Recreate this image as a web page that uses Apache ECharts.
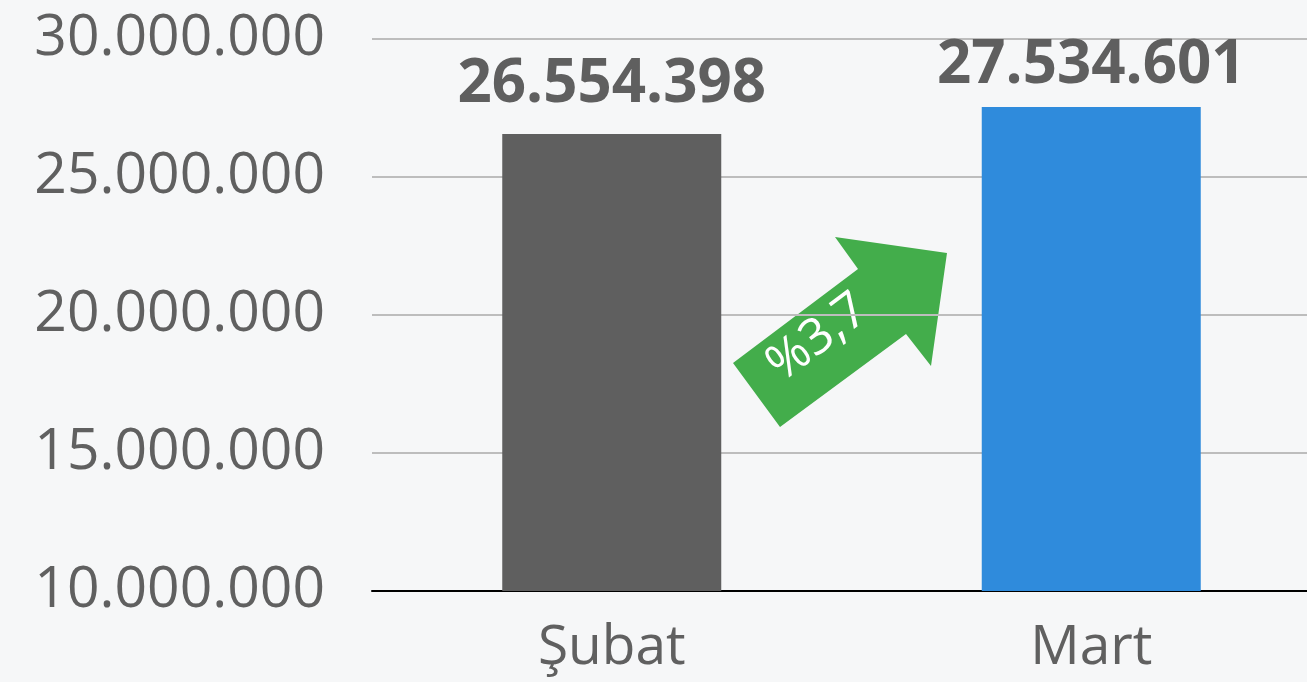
<!DOCTYPE html>
<html>
<head>
<meta charset="utf-8">
<title>Şubat - Mart</title>
<script src="https://cdn.jsdelivr.net/npm/echarts@6/dist/echarts.min.js"></script>
<style>
  html, body { margin: 0; padding: 0; overflow: hidden; background: #f6f7f8; }
  #chart { width: 1331px; height: 682px; }
</style>
</head>
<body>
<div id="chart"></div>
<script>
// data
const months = ["Şubat", "Mart"];
const totals = [26554398, 27534601];
const barColors = ["#5f5f5f", "#2f8bdc"];
const changeText = "%3,7";

const yMin = 10000000, yMax = 30000000, yStep = 5000000;

function dots(v) {
  return String(Math.round(v)).replace(/\B(?=(\d{3})+(?!\d))/g, ".");
}

const chart = echarts.init(document.getElementById("chart"));
chart.setOption({
  backgroundColor: "#f6f7f8",
  animation: false,
  grid: { left: 372, right: 0, top: 39, bottom: 91 },
  xAxis: {
    type: "category",
    data: months,
    axisLine: { lineStyle: { color: "#000", width: 2 } },
    axisTick: { show: false },
    axisLabel: {
      color: "#606060",
      fontFamily: "Open Sans",
      fontSize: 55,
      margin: 30
    }
  },
  yAxis: {
    type: "value",
    min: yMin,
    max: yMax,
    interval: yStep,
    axisLine: { show: false },
    axisTick: { show: false },
    splitLine: { lineStyle: { color: "#bdbdbd", width: 2 } },
    axisLabel: {
      color: "#606060",
      fontFamily: "Open Sans",
      fontSize: 57,
      margin: 47,
      formatter: dots
    }
  },
  series: [
    {
      type: "bar",
      barWidth: 219,
      data: totals.map((v, i) => ({
        value: v,
        itemStyle: { color: barColors[i] },
        label: { distance: i === 0 ? 19 : 11 }
      })),
      label: {
        show: true,
        position: "top",
        color: "#5f5f5f",
        fontFamily: "Open Sans",
        fontWeight: "bold",
        fontSize: 60,
        formatter: p => dots(p.value)
      }
    }
  ],
  graphic: [
    {
      type: "polygon",
      shape: {
        points: [
          [733, 363], [780, 427], [906, 334], [931, 366],
          [947, 253], [835, 237], [858, 269]
        ]
      },
      style: { fill: "#43ad4b" }
    },
    {
      type: "text",
      x: 818,
      y: 338,
      rotation: 0.64,
      style: {
        text: changeText,
        fill: "#fff",
        font: "50px 'Open Sans'",
        align: "center",
        verticalAlign: "middle"
      }
    }
  ]
});
</script>
</body>
</html>
